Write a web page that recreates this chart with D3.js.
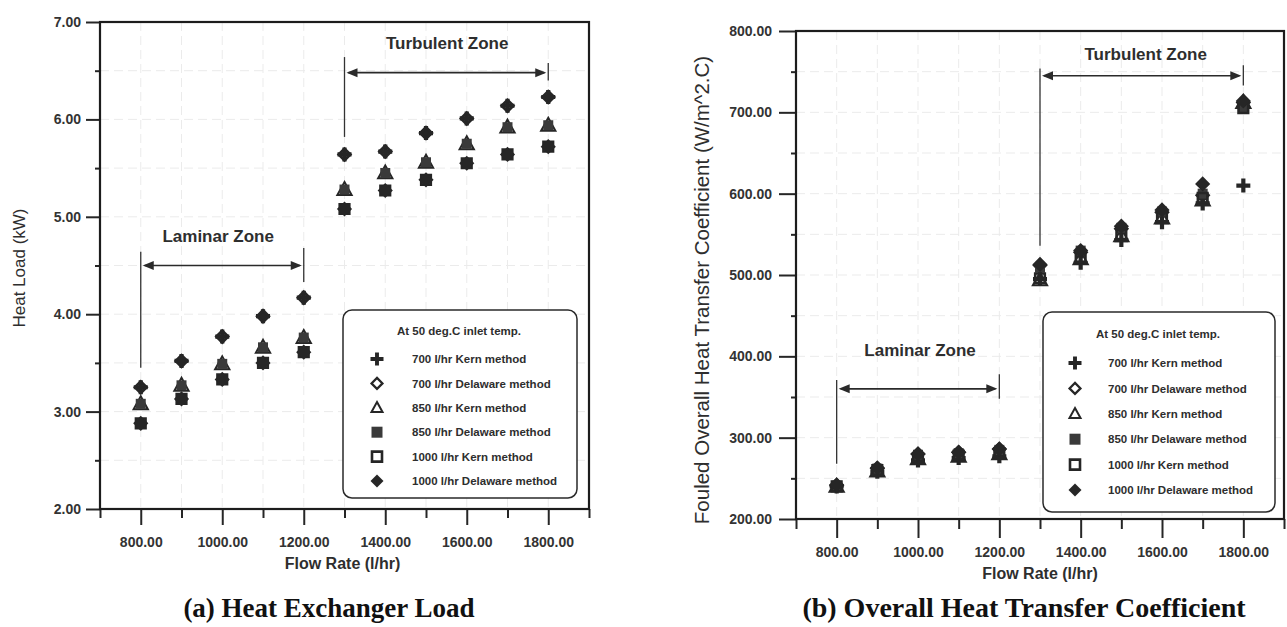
<!DOCTYPE html>
<html>
<head>
<meta charset="utf-8">
<script src="https://cdn.jsdelivr.net/npm/d3@7"></script>
<style>
  body { margin: 0; background: #fff; }
  svg { display: block; font-family: "Liberation Sans", Arial, Helvetica, sans-serif; }
</style>
</head>
<body>
<svg id="fig" width="1287" height="627"></svg>
<script>
// ---- data -------------------------------------------------------------
const flowRates = [800, 900, 1000, 1100, 1200, 1300, 1400, 1500, 1600, 1700, 1800];

const seriesNames = [
  "700 l/hr Kern method",
  "700 l/hr Delaware method",
  "850 l/hr Kern method",
  "850 l/hr Delaware method",
  "1000 l/hr Kern method",
  "1000 l/hr Delaware method"
];

// (a) heat load, kW
const load700Kern      = [3.25, 3.52, 3.77, 3.98, 4.17, 5.64, 5.67, 5.86, 6.01, 6.14, 6.23];
const load700Delaware  = [3.25, 3.52, 3.77, 3.98, 4.17, 5.64, 5.67, 5.86, 6.01, 6.14, 6.23];
const load850Kern      = [3.08, 3.27, 3.49, 3.66, 3.76, 5.28, 5.45, 5.56, 5.75, 5.92, 5.94];
const load850Delaware  = [3.08, 3.27, 3.49, 3.66, 3.76, 5.28, 5.45, 5.56, 5.75, 5.92, 5.94];
const load1000Kern     = [2.88, 3.13, 3.33, 3.50, 3.61, 5.08, 5.27, 5.38, 5.55, 5.64, 5.72];
const load1000Delaware = [2.88, 3.13, 3.33, 3.50, 3.61, 5.08, 5.27, 5.38, 5.55, 5.64, 5.72];

// (b) fouled overall heat transfer coefficient, W/m^2.C
const u700Kern      = [240, 258, 272, 275, 277, 495, 515, 543, 565, 588, 610];
const u700Delaware  = [241, 262, 280, 282, 286, 512, 528, 557, 577, 598, 712];
const u850Kern      = [240, 259, 274, 277, 280, 494, 520, 548, 570, 592, 712];
const u850Delaware  = [241, 262, 279, 281, 285, 509, 530, 558, 578, 600, 706];
const u1000Kern     = [240, 260, 275, 278, 281, 496, 522, 550, 572, 595, 705];
const u1000Delaware = [242, 263, 280, 282, 286, 513, 530, 560, 580, 612, 714];

// ticks
const xMajorTicks = [800, 1000, 1200, 1400, 1600, 1800];
const xMinorTicks = [700, 900, 1100, 1300, 1500, 1700, 1900];
const loadMajorTicks = [2, 3, 4, 5, 6, 7];
const loadMinorTicks = [2.5, 3.5, 4.5, 5.5, 6.5];
const uMajorTicks = [200, 300, 400, 500, 600, 700, 800];
const uMinorTicks = [250, 350, 450, 550, 650, 750];

const legendTitle = "At 50 deg.C inlet temp.";

// ---- drawing ----------------------------------------------------------
const svg = d3.select("#fig");
const INK = "#262626";
const fmt2 = d3.format(".2f");

// marker outlines, centred on the origin
function glyph(kind, r) {
  const p = d3.path();
  if (kind === "plus") {
    const t = r * 0.3;
    p.moveTo(-t, -r); p.lineTo(t, -r); p.lineTo(t, -t); p.lineTo(r, -t);
    p.lineTo(r, t); p.lineTo(t, t); p.lineTo(t, r); p.lineTo(-t, r);
    p.lineTo(-t, t); p.lineTo(-r, t); p.lineTo(-r, -t); p.lineTo(-t, -t);
    p.closePath();
  } else if (kind === "diamond") {
    p.moveTo(0, -r); p.lineTo(r, 0); p.lineTo(0, r); p.lineTo(-r, 0); p.closePath();
  } else if (kind === "triangle") {
    p.moveTo(0, -r); p.lineTo(r * 0.95, r * 0.72); p.lineTo(-r * 0.95, r * 0.72); p.closePath();
  } else {
    p.rect(-r, -r, 2 * r, 2 * r);
  }
  return p.toString();
}

// marker style per series: kind, filled, plot radius, legend radius, stroke width
const markerStyle = [
  { kind: "plus",     filled: true,  r: 7.0, lr: 6.5, sw: 0,   psw: 0 },
  { kind: "diamond",  filled: false, r: 5.8, lr: 5.5, sw: 2.2, psw: 2.8 },
  { kind: "triangle", filled: false, r: 7.5, lr: 5.8, sw: 2.0, psw: 2.0 },
  { kind: "square",   filled: true,  r: 5.0, lr: 5.5, sw: 0,   psw: 0 },
  { kind: "square",   filled: false, r: 4.8, lr: 5.0, sw: 2.6, psw: 2.6 },
  { kind: "diamond",  filled: true,  r: 7.6, lr: 6.5, sw: 0,   psw: 0 }
];

function styleMarker(sel, st, r, sw) {
  sel.attr("d", glyph(st.kind, r))
    .attr("fill", st.filled ? (st.kind === "square" ? "#3a3a3a" : INK) : "none")
    .attr("stroke", st.filled ? "none" : INK)
    .attr("stroke-width", sw)
    .attr("stroke-linejoin", "miter");
}

function arrowHead(g, xTip, yy, dir) {
  const L = 11, W = 4.5;
  g.append("path")
    .attr("d", `M${xTip},${yy}L${xTip + dir * L},${yy - W}L${xTip + dir * L},${yy + W}Z`)
    .attr("fill", "#2a2a2a");
}

function drawPanel(cfg) {
  const g = svg.append("g");
  const x = d3.scaleLinear().domain([700, 1900]).range([cfg.left, cfg.right]);
  const y = d3.scaleLinear().domain(cfg.yDomain).range([cfg.bottom, cfg.top]);

  // faint grid
  const grid = g.append("g").attr("stroke", "#ebebeb").attr("stroke-width", 1)
    .attr("stroke-dasharray", "9 5");
  grid.selectAll("line.v").data(xMajorTicks.concat(xMinorTicks.slice(1, -1))).join("line")
    .attr("x1", d => x(d)).attr("x2", d => x(d)).attr("y1", cfg.top).attr("y2", cfg.bottom);
  grid.selectAll("line.h").data(cfg.yMajor.slice(1, -1).concat(cfg.yMinor)).join("line")
    .attr("x1", cfg.left).attr("x2", cfg.right).attr("y1", d => y(d)).attr("y2", d => y(d));

  // axes
  const axisStyle = sel => {
    sel.select(".domain").remove();
    sel.selectAll(".tick line").attr("stroke", INK).attr("stroke-width", 2);
    sel.selectAll(".tick text").attr("fill", "#333").attr("font-size", 14)
      .attr("font-weight", "bold").attr("font-family", "Liberation Sans, Arial, sans-serif");
  };
  g.append("g").attr("transform", `translate(${cfg.left},0)`)
    .call(d3.axisLeft(y).tickValues(cfg.yMinor).tickSize(5).tickFormat(""))
    .call(axisStyle);
  g.append("g").attr("transform", `translate(${cfg.left},0)`)
    .call(d3.axisLeft(y).tickValues(cfg.yMajor).tickSize(cfg.yTick).tickPadding(cfg.yPad).tickFormat(fmt2))
    .call(axisStyle);
  g.append("g").attr("transform", `translate(0,${cfg.bottom})`)
    .call(d3.axisBottom(x).tickValues(xMinorTicks).tickSize(cfg.xMinorTick).tickFormat(""))
    .call(axisStyle);
  g.append("g").attr("transform", `translate(0,${cfg.bottom})`)
    .call(d3.axisBottom(x).tickValues(xMajorTicks).tickSize(cfg.xTick).tickPadding(cfg.xPad).tickFormat(fmt2))
    .call(axisStyle);

  // frame
  g.append("rect").attr("x", cfg.left).attr("y", cfg.top)
    .attr("width", cfg.right - cfg.left).attr("height", cfg.bottom - cfg.top)
    .attr("fill", "none").attr("stroke", "#1c1c1c").attr("stroke-width", 2.2);

  // axis titles
  g.append("text").attr("x", (cfg.left + cfg.right) / 2 + cfg.xTitleShift).attr("y", cfg.xTitleY)
    .attr("text-anchor", "middle").attr("font-size", 16).attr("font-weight", "bold")
    .attr("fill", "#2e2e2e").text("Flow Rate (l/hr)");
  g.append("text")
    .attr("transform", `translate(${cfg.yTitleX},${cfg.yTitleY}) rotate(-90)`)
    .attr("text-anchor", "middle").attr("font-size", cfg.yTitleSize)
    .attr("fill", "#2e2e2e").text(cfg.yTitle);

  // zone annotations
  cfg.zones.forEach(z => {
    const a = g.append("g");
    a.append("text").attr("x", x(z.labelAt)).attr("y", y(z.labelY))
      .attr("text-anchor", "middle").attr("font-size", 17).attr("font-weight", "bold")
      .attr("fill", "#2e2e2e").text(z.label);
    a.append("line").attr("x1", x(z.from)).attr("x2", x(z.from))
      .attr("y1", y(z.fromSpan[0])).attr("y2", y(z.fromSpan[1]))
      .attr("stroke", "#333").attr("stroke-width", 1.3);
    a.append("line").attr("x1", x(z.to)).attr("x2", x(z.to))
      .attr("y1", y(z.toSpan[0])).attr("y2", y(z.toSpan[1]))
      .attr("stroke", "#333").attr("stroke-width", 1.3);
    const ay = y(z.arrowY);
    a.append("line").attr("x1", x(z.from) + 4).attr("x2", x(z.to) - 4)
      .attr("y1", ay).attr("y2", ay).attr("stroke", "#2a2a2a").attr("stroke-width", 1.6);
    arrowHead(a, x(z.from) + 2, ay, 1);
    arrowHead(a, x(z.to) - 2, ay, -1);
  });

  // data marks
  cfg.series.forEach((vals, i) => {
    const st = markerStyle[i];
    g.append("g").selectAll("path").data(flowRates.map((f, k) => [f, vals[k]])).join("path")
      .attr("transform", d => `translate(${x(d[0])},${y(d[1])})`)
      .call(styleMarker, st, st.r, st.psw);
  });

  // legend
  const L = cfg.legend;
  const lg = g.append("g");
  lg.append("rect").attr("x", L.x).attr("y", L.y).attr("width", L.w).attr("height", L.h)
    .attr("rx", 9).attr("fill", "#fff").attr("stroke", "#2a2a2a").attr("stroke-width", 1.5);
  lg.append("text").attr("x", L.x + L.w / 2 - 1).attr("y", L.titleY)
    .attr("text-anchor", "middle").attr("font-size", 11.5).attr("font-weight", "bold")
    .attr("fill", "#2e2e2e").text(legendTitle);
  seriesNames.forEach((name, i) => {
    const cy = L.row0 + i * L.gap;
    const st = markerStyle[i];
    lg.append("path").attr("transform", `translate(${L.symX},${cy})`).call(styleMarker, st, st.lr, st.sw);
    lg.append("text").attr("x", L.textX).attr("y", cy + 4.2)
      .attr("font-size", 11.5).attr("font-weight", "bold").attr("fill", "#2e2e2e").text(name);
  });
}

// (a) heat exchanger load
drawPanel({
  left: 100, right: 589, top: 22, bottom: 509,
  yDomain: [2, 7], yMajor: loadMajorTicks, yMinor: loadMinorTicks,
  yTick: 14, yPad: 5, xTick: 16, xMinorTick: 9, xPad: 12,
  xTitleY: 569, xTitleShift: -2,
  yTitle: "Heat Load (kW)", yTitleX: 25, yTitleY: 268, yTitleSize: 17,
  series: [load700Kern, load700Delaware, load850Kern, load850Delaware, load1000Kern, load1000Delaware],
  zones: [
    { label: "Laminar Zone", labelAt: 990, labelY: 4.74, from: 800, to: 1200,
      fromSpan: [4.64, 3.45], toSpan: [4.68, 4.33], arrowY: 4.5 },
    { label: "Turbulent Zone", labelAt: 1552, labelY: 6.72, from: 1300, to: 1800,
      fromSpan: [6.64, 5.82], toSpan: [6.58, 6.40], arrowY: 6.48 }
  ],
  legend: { x: 343, y: 310, w: 234, h: 188, titleY: 335, row0: 359, gap: 24.4, symX: 377, textX: 412 }
});

// (b) overall heat transfer coefficient
drawPanel({
  left: 796, right: 1284, top: 31, bottom: 519,
  yDomain: [200, 800], yMajor: uMajorTicks, yMinor: uMinorTicks,
  yTick: 17, yPad: 7, xTick: 19, xMinorTick: 10, xPad: 9,
  xTitleY: 579, xTitleShift: 0,
  yTitle: "Fouled Overall Heat Transfer Coefficient (W/m^2.C)", yTitleX: 709, yTitleY: 290, yTitleSize: 20.5,
  series: [u700Kern, u700Delaware, u850Kern, u850Delaware, u1000Kern, u1000Delaware],
  zones: [
    { label: "Laminar Zone", labelAt: 1005, labelY: 401, from: 800, to: 1200,
      fromSpan: [371, 268], toSpan: [378, 348], arrowY: 360 },
    { label: "Turbulent Zone", labelAt: 1560, labelY: 764, from: 1300, to: 1800,
      fromSpan: [754, 536], toSpan: [758, 733], arrowY: 745 }
  ],
  legend: { x: 1043, y: 312, w: 232, h: 200, titleY: 338, row0: 363, gap: 25.4, symX: 1075, textX: 1108 }
});

// panel captions
svg.append("text").attr("x", 329).attr("y", 617).attr("text-anchor", "middle")
  .attr("font-family", "Liberation Serif, Times New Roman, serif").attr("font-weight", "bold")
  .attr("font-size", 27).attr("fill", "#111").text("(a) Heat Exchanger Load");
svg.append("text").attr("x", 1024).attr("y", 617).attr("text-anchor", "middle")
  .attr("font-family", "Liberation Serif, Times New Roman, serif").attr("font-weight", "bold")
  .attr("font-size", 28).attr("fill", "#111").text("(b) Overall Heat Transfer Coefficient");
</script>
</body>
</html>
